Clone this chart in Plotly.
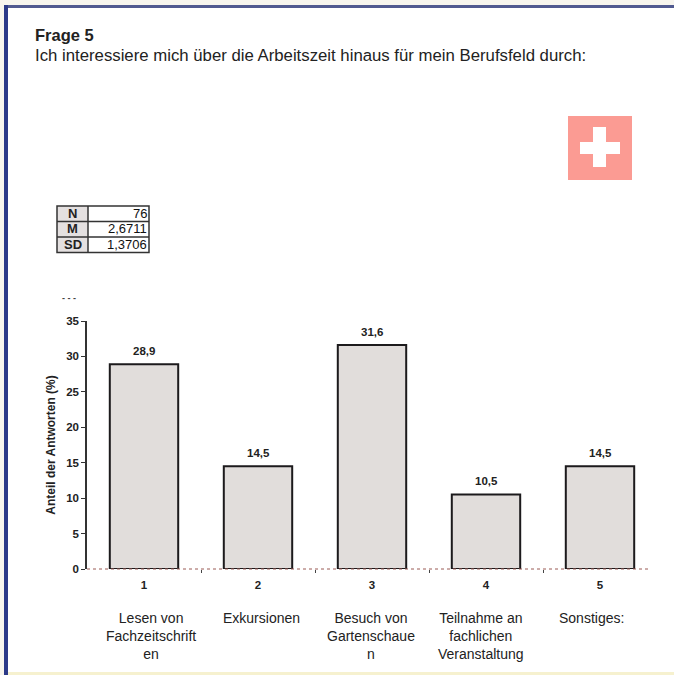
import plotly.graph_objects as go

categories = [1, 2, 3, 4, 5]
shares = [28.9, 14.5, 31.6, 10.5, 14.5]
answers = ["Lesen von<br>Fachzeitschrift<br>en", "Exkursionen", "Besuch von<br>Gartenschaue<br>n",
           "Teilnahme an<br>fachlichen<br>Veranstaltung", "Sonstiges:"]
stat_names = ["N", "M", "SD"]
stat_values = ["76", "2,6711", "1,3706"]
y_ticks = [0, 5, 10, 15, 20, 25, 30, 35]

W, H = 674, 675
FONT = "Liberation Sans"
px = lambda v: v / W
py = lambda v: 1 - v / H

fig = go.Figure(go.Bar(
    x=categories, y=shares, width=0.6,
    marker=dict(color="#e1dddb", line=dict(color="#1c1a1c", width=2)),
    hoverinfo="skip",
))

shapes = []
annotations = []


def rect(x0, y0, x1, y1, fill, line="rgba(0,0,0,0)", width=0, layer="above"):
    shapes.append(dict(type="rect", xref="paper", yref="paper", x0=px(x0), x1=px(x1),
                       y0=py(y0), y1=py(y1), fillcolor=fill, layer=layer,
                       line=dict(color=line, width=width)))


def label(x, y, text, size, anchor="left", color="#222222", bold=False, yanchor="middle"):
    annotations.append(dict(xref="paper", yref="paper", x=px(x), y=py(y), text=text, showarrow=False,
                            xanchor=anchor, yanchor=yanchor, align="center",
                            font=dict(family=FONT, size=size, color=color,
                                      weight="bold" if bold else "normal")))


# page frame
rect(0, 0, 674, 5, "#f7f5ee", layer="below")
rect(0, 0, 4, 675, "#f7f5ee", layer="below")
rect(4, 5, 674, 8, "#515a90")
rect(4, 5, 8, 675, "#2c3a88")
rect(8, 672, 674, 675, "#f6f1cf")

# header
label(33, 35, "Frage 5", 16.5, bold=True)
label(33, 56, "Ich interessiere mich über die Arbeitszeit hinaus für mein Berufsfeld durch:", 16.75)

# flag
rect(568, 116, 632, 180, "#fb9b93")
rect(593, 127, 606, 167, "#ffffff")
rect(580, 142, 620, 154, "#ffffff")

# stats table
top, row = 206, 15.5
rect(57, top, 88, top + row * 3, "#e4e0e0")
rect(57, top, 149, top + row * 3, "rgba(0,0,0,0)", "#333333", 1.5)
shapes.append(dict(type="line", xref="paper", yref="paper", x0=px(88), x1=px(88),
                   y0=py(top), y1=py(top + row * 3), line=dict(color="#333333", width=1.5)))
for i, (n, v) in enumerate(zip(stat_names, stat_values)):
    if i:
        shapes.append(dict(type="line", xref="paper", yref="paper", x0=px(57), x1=px(149),
                           y0=py(top + row * i), y1=py(top + row * i),
                           line=dict(color="#333333", width=1.5)))
    label(72.5, top + row * (i + .5) - .5, n, 13, "center", bold=True)
    label(149, top + row * (i + .5) - .5, v, 13, "right", color="#111111")

# stray axis remnant above the chart
label(69, 298, "- - -", 9, "center", bold=True, color="#444444")

# axis baseline
shapes.append(dict(type="line", xref="paper", yref="paper", x0=px(87), x1=px(651),
                   y0=py(569), y1=py(569), line=dict(color="#9a5a55", width=1, dash="dot")))

# value labels above the bars
for c, v in zip(categories, shares):
    annotations.append(dict(xref="x", yref="y", x=c, y=v, yshift=13.5, text=f"{v:.1f}".replace(".", ","),
                            showarrow=False, xanchor="center", yanchor="middle",
                            font=dict(family=FONT, size=11.5, color="#222222", weight="bold")))

# answer labels: their own column grid, slightly tighter than the bars
for i, a in enumerate(answers):
    annotations.append(dict(xref="paper", yref="paper", x=px(151 + 110 * i), y=py(608), text=a, showarrow=False,
                            xanchor="center", yanchor="top", align="center",
                            font=dict(family=FONT, size=14, color="#222222")))

fig.update_layout(
    width=W, height=H, autosize=False, margin=dict(l=0, r=0, t=0, b=0, autoexpand=False),
    paper_bgcolor="#ffffff", plot_bgcolor="rgba(0,0,0,0)", showlegend=False,
    shapes=shapes, annotations=annotations,
    xaxis=dict(domain=[px(87), px(657)], range=[0.5, 5.5], tickvals=categories, ticks="", automargin=False,
               ticklabelstandoff=7, showgrid=False, zeroline=False, showline=False,
               tickfont=dict(family=FONT, size=11.5, color="#222222", weight="bold"),
               minor=dict(tickvals=[1.5, 2.5, 3.5, 4.5], ticks="outside", ticklen=3,
                          tickcolor="#444444", showgrid=False)),
    yaxis=dict(domain=[py(569), py(321)], range=[0, 35], tickvals=y_ticks, ticks="outside", ticklen=4,
               automargin=False, tickcolor="#333333", showgrid=False, zeroline=False, showline=True,
               linecolor="#333333", linewidth=1.5,
               tickfont=dict(family=FONT, size=11.5, color="#222222", weight="bold"),
               title=dict(text="Anteil der Antworten (%)", standoff=8,
                          font=dict(family=FONT, size=12, color="#222222", weight="bold"))),
)

fig.write_html("out.html", config=dict(displayModeBar=False),
               post_script="document.body.style.margin='0';document.documentElement.style.overflow='hidden';")
